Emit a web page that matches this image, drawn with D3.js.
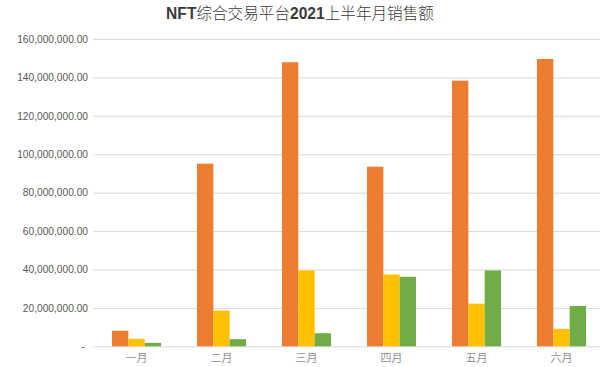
<!DOCTYPE html>
<html>
<head>
<meta charset="utf-8">
<script src="https://cdn.jsdelivr.net/npm/d3@7"></script>
<style>
  body { margin: 0; background: #fff; }
  svg { display: block; }
</style>
</head>
<body>
<div id="chart"></div>
<script>
// data
var months = ["一月", "二月", "三月", "四月", "五月", "六月"];
var seriesNames = ["s1", "s2", "s3"];
var orangeVals = [8100000, 95100000, 147900000, 93500000, 138300000, 149600000];
var yellowVals = [3900000, 18600000, 39500000, 37400000, 22200000, 9100000];
var greenVals = [1800000, 3700000, 6800000, 36200000, 39500000, 21000000];
var yTicks = [0, 20000000, 40000000, 60000000, 80000000, 100000000, 120000000, 140000000, 160000000];
var colors = ["#ED7D31", "#FFC000", "#70AD47"];

var W = 600, H = 367;
var margin = {t: 39, r: -4, b: 20.7, l: 94};
var width = W - margin.l - margin.r,
    height = H - margin.t - margin.b;

var svg = d3.select('#chart').append('svg')
    .attr('width', W)
    .attr('height', H);

// title: latin bold, cjk lighter
var title = svg.append('text')
    .attr('x', 300)
    .attr('y', 19)
    .attr('text-anchor', 'middle')
    .attr('font-size', 15.6)
    .attr('fill', '#3a3a3a');
[["NFT", true], ["综合交易平台", false], ["2021", true], ["上半年月销售额", false]].forEach(function(p){
    title.append('tspan')
        .attr('font-family', p[1] ? 'Liberation Sans, Arial, sans-serif' : '"Noto Sans CJK SC", sans-serif')
        .attr('font-weight', p[1] ? 'bold' : 300)
        .text(p[0]);
});

var g = svg.append('g').attr('transform', 'translate(' + margin.l + ',' + margin.t + ')');

var x0 = d3.scaleBand().domain(months).range([0, width]).padding(0);
var x1 = d3.scaleBand().domain(seriesNames).range([0, x0.bandwidth()]).paddingInner(0).paddingOuter(1.1);
var y = d3.scaleLinear().domain([0, 160000000]).range([height, 0]);

var fmt = d3.format(",.2f");
var axisY = d3.axisLeft(y)
    .tickValues(yTicks)
    .tickSize(-width - 2)
    .tickPadding(6)
    .tickFormat(function(d){ return d === 0 ? "-" : fmt(d); });

var gy = g.append('g').attr('class', 'axis-y').call(axisY);
gy.select('.domain').remove();
gy.selectAll('line').attr('stroke', '#d9d9d9').attr('x1', -1).attr('x2', width + 2);
gy.selectAll('text')
    .attr('x', -6)
    .attr('fill', '#595959')
    .attr('font-size', 10.2)
    .attr('font-family', 'Liberation Sans, Arial, sans-serif');
gy.selectAll('.tick').filter(function(d){ return d === 0; }).select('text').attr('x', -9);

var axisX = d3.axisBottom(x0).tickSize(0).tickPadding(8);
var gx = g.append('g').attr('transform', 'translate(0,' + height + ')').call(axisX);
gx.select('.domain').remove();
gx.selectAll('text')
    .attr('fill', '#595959')
    .attr('font-size', 11)
    .attr('font-family', '"Noto Sans CJK SC", sans-serif')
    .attr('font-weight', 300);

var all = [orangeVals, yellowVals, greenVals];
var rows = months.map(function(m, i){
    return {month: m, vals: seriesNames.map(function(s, j){ return {key: s, idx: j, v: all[j][i]}; })};
});

var groups = g.selectAll('.grp')
    .data(rows)
    .enter()
    .append('g')
    .attr('class', 'grp')
    .attr('transform', function(d){ return 'translate(' + x0(d.month) + ',0)'; });

groups.selectAll('rect')
    .data(function(d){ return d.vals; })
    .enter()
    .append('rect')
    .attr('x', function(d){ return x1(d.key); })
    .attr('width', x1.bandwidth())
    .attr('y', function(d){ return y(d.v); })
    .attr('height', function(d){ return height - y(d.v); })
    .attr('fill', function(d){ return colors[d.idx]; });
</script>
</body>
</html>
